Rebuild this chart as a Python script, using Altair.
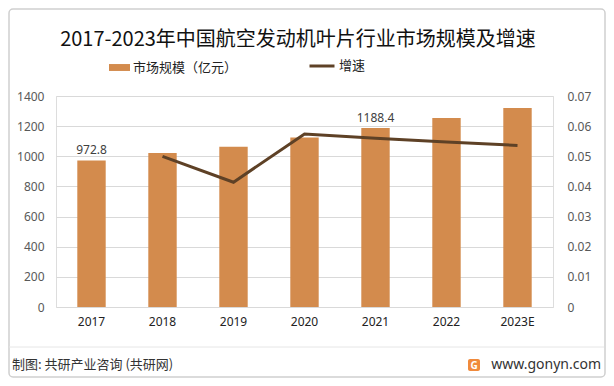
import altair as alt
import pandas as pd

years = ["2017", "2018", "2019", "2020", "2021", "2022", "2023E"]
market = [972.8, 1021.4, 1063.7, 1125.3, 1188.4, 1253.4, 1320.6]
growth = [None, 0.0500, 0.0414, 0.0574, 0.0560, 0.0547, 0.0536]
bar_labels = ["972.8", "", "", "", "1188.4", "", ""]
left_ticks = [0, 200, 400, 600, 800, 1000, 1200, 1400]
right_ticks = [0, 0.01, 0.02, 0.03, 0.04, 0.05, 0.06, 0.07]
title_text = "2017-2023年中国航空发动机叶片行业市场规模及增速"
bar_name = "市场规模（亿元）"
line_name = "增速"
source_text = "制图: 共研产业咨询 (共研网)"
site_text = "www.gonyn.com"

BAR_COLOR = "#D38B4D"
LINE_COLOR = "#5E4126"
GRID = "#d9d9d9"
CJK = "Noto Sans CJK SC"
NUM = "Noto Sans"

df = pd.DataFrame({
    "year": years,
    "market": market,
    "growth": growth,
    "label": bar_labels,
    "s1": [bar_name] * len(years),
    "s2": [line_name] * len(years),
})

xenc = alt.X("year:N", sort=years,
             scale=alt.Scale(paddingInner=0.6, paddingOuter=0.3),
             axis=alt.Axis(title=None, labelAngle=0, domain=False, ticks=False,
                           labelPadding=9, labelFont=NUM, labelFontSize=12,
                           labelColor="#222222"))

yleft = alt.Y("market:Q", scale=alt.Scale(domain=[0, 1400], nice=False),
              axis=alt.Axis(title=None, values=left_ticks, tickCount=8, grid=True,
                            gridColor=GRID, domain=False, ticks=False, labelPadding=12,
                            format="d", labelOverlap=False,
                            labelFont=NUM, labelFontSize=12, labelColor="#595959"))

bars = alt.Chart(df).mark_bar().encode(
    x=xenc,
    y=yleft,
    color=alt.Color("s1:N", scale=alt.Scale(domain=[bar_name], range=[BAR_COLOR]),
                    legend=alt.Legend(title=None, orient="none", legendX=53, legendY=-39,
                                      padding=0, labelFont=CJK, labelFontSize=13,
                                      labelColor="#222222", labelOffset=3,
                                      symbolType="M-1,-0.33H1V0.33H-1Z", symbolSize=441,
                                      symbolStrokeWidth=0)),
)

labels = alt.Chart(df).mark_text(dy=-10, font=NUM, fontSize=12, color="#404040").encode(
    x=alt.X("year:N", sort=years),
    y=yleft,
    text="label:N",
)

line = alt.Chart(df).mark_line(strokeWidth=3).encode(
    x=alt.X("year:N", sort=years),
    y=alt.Y("growth:Q", scale=alt.Scale(domain=[0, 0.07], nice=False),
            axis=alt.Axis(title=None, orient="right", values=right_ticks, tickCount=8,
                          grid=False, domain=False, ticks=False, labelPadding=14,
                          labelOverlap=False,
                          labelFont=NUM, labelFontSize=12, labelColor="#595959",
                          labelExpr="datum.value == 0 ? '0' : format(datum.value, '.2f')")),
    stroke=alt.Stroke("s2:N", scale=alt.Scale(domain=[line_name], range=[LINE_COLOR]),
                      legend=alt.Legend(title=None, orient="none", legendX=252, legendY=-44,
                                        padding=0, labelFont=CJK, labelFontSize=13,
                                        labelColor="#222222", labelOffset=3,
                                        symbolType="stroke", symbolSize=625,
                                        symbolStrokeWidth=3)),
)

main = alt.layer(alt.layer(bars, labels), line).resolve_scale(y="independent")

one = pd.DataFrame({"t": [title_text]})
title = alt.Chart(one).mark_text(font=CJK, fontSize=20, color="#111111",
                                 align="center", baseline="middle").encode(
    x=alt.value(242), y=alt.value(-56), text="t:N")

border = alt.Chart(pd.DataFrame({"a": [0]})).mark_rect(
    fill=None, stroke="#cfcfcf", strokeWidth=1.5, cornerRadius=4).encode(
    x=alt.value(-47), x2=alt.value(549), y=alt.value(-87), y2=alt.value(281))

sep = alt.Chart(pd.DataFrame({"a": [0]})).mark_rule(color="#e6e6e6", strokeWidth=1).encode(
    x=alt.value(-47), x2=alt.value(548), y=alt.value(251))

src = alt.Chart(pd.DataFrame({"t": [source_text]})).mark_text(
    font=CJK, fontSize=13, color="#333333", align="left", baseline="middle").encode(
    x=alt.value(-44), y=alt.value(269), text="t:N")

site = alt.Chart(pd.DataFrame({"t": [site_text]})).mark_text(
    font=NUM, fontSize=14, color="#333333", align="right", baseline="middle").encode(
    x=alt.value(545), y=alt.value(269), text="t:N")

logo = alt.Chart(pd.DataFrame({"a": [0]})).mark_rect(
    fill="#F08A3C", cornerRadius=2).encode(
    x=alt.value(412), x2=alt.value(424), y=alt.value(263), y2=alt.value(275))

logo_g = alt.Chart(pd.DataFrame({"t": ["G"]})).mark_text(
    font=NUM, fontSize=10, fontWeight="bold", color="white", align="center",
    baseline="middle").encode(x=alt.value(418), y=alt.value(269.5), text="t:N")

chart = alt.layer(border, sep, main, title, src, logo, logo_g, site).properties(
    width=497, height=211,
    autosize=alt.AutoSizeParams(type="none"),
    padding={"left": 48, "top": 88, "right": 53, "bottom": 71},
).configure_view(stroke=None).configure(background="white")

chart.save("out.html", embed_options={"renderer": "svg", "actions": False})
